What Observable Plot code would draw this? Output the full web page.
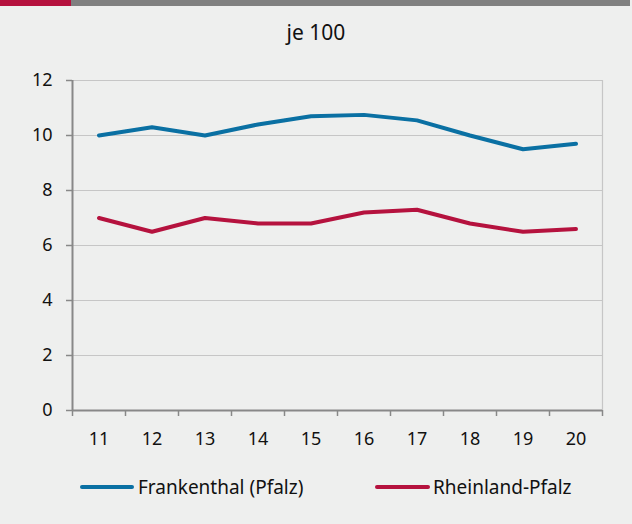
<!DOCTYPE html>
<html><head><meta charset="utf-8">
<script src="https://cdn.jsdelivr.net/npm/d3@7"></script>
<script src="https://cdn.jsdelivr.net/npm/@observablehq/plot@0.6"></script>
<style>
html,body{margin:0;padding:0;background:#eeefee;}
#wrap{position:relative;width:632px;height:524px;overflow:hidden;background:#eeefee;font-family:"Noto Sans",sans-serif;color:#111;}
#barR{position:absolute;left:0;top:0;width:71px;height:6px;background:#b5123e;}
#barG{position:absolute;left:71px;top:0;width:559px;height:6px;background:#808080;}
#title{position:absolute;left:0;width:632px;top:19px;text-align:center;font-size:21px;line-height:26px;}
#chart{position:absolute;left:0;top:60px;}
.leg{position:absolute;top:475px;font-size:19px;line-height:24px;white-space:nowrap;}
.sw{position:absolute;height:4px;border-radius:2px;top:485px;}
</style></head>
<body><div id="wrap">
<div id="barR"></div><div id="barG"></div>
<div id="title">je 100</div>
<div id="chart"></div>
<div class="sw" style="left:80px;width:54px;background:#0a70a3"></div>
<div class="leg" style="left:138px">Frankenthal (Pfalz)</div>
<div class="sw" style="left:375px;width:55px;background:#b5123e"></div>
<div class="leg" style="left:433px">Rheinland-Pfalz</div>
</div>
<script>
const years = [11,12,13,14,15,16,17,18,19,20];
const frankenthal = [10.0,10.3,10.0,10.4,10.7,10.75,10.55,10.0,9.5,9.7];
const rheinlandPfalz = [7.0,6.5,7.0,6.8,6.8,7.2,7.3,6.8,6.5,6.6];
const yTicks = [0,2,4,6,8,10,12];
const seriesNames = ["Frankenthal (Pfalz)","Rheinland-Pfalz"];
const colors = ["#0a70a3","#b5123e"];

const data = [];
years.forEach((y,i)=>{
  data.push({year:y, value:frankenthal[i], series:seriesNames[0]});
  data.push({year:y, value:rheinlandPfalz[i], series:seriesNames[1]});
});
const boundaries = years.map(y=>y-0.5).concat([years[years.length-1]+0.5]);

const chart = Plot.plot({
  width:632, height:395,
  marginLeft:72, marginRight:30, marginTop:20, marginBottom:45,
  style:{background:"transparent", fontFamily:"Noto Sans, sans-serif", fontSize:"18px", color:"#111"},
  x:{type:"linear", domain:[boundaries[0], boundaries[boundaries.length-1]]},
  y:{domain:[0,12]},
  color:{domain:seriesNames, range:colors},
  marks:[
    Plot.ruleY(yTicks.filter(d=>d>0), {stroke:"#c6c6c6", strokeWidth:1.2}),
    Plot.ruleX([boundaries[boundaries.length-1]], {stroke:"#c6c6c6", strokeWidth:1.2}),
    Plot.axisY({ticks:yTicks, tickSize:6, tickPadding:14, stroke:"#888", strokeWidth:1.5, fontSize:18, label:null}),
    Plot.axisX({ticks:boundaries, tickSize:6, tickFormat:()=>"", stroke:"#888", strokeWidth:1.5, label:null}),
    Plot.axisX({ticks:years, tickSize:0, tickPadding:22, fontSize:18, label:null}),
    Plot.ruleX([boundaries[0]], {stroke:"#888", strokeWidth:2}),
    Plot.ruleY([0], {stroke:"#888", strokeWidth:2}),
    Plot.line(data, {x:"year", y:"value", z:"series", stroke:"series", strokeWidth:4, strokeLinejoin:"round", strokeLinecap:"round"})
  ]
});
document.getElementById("chart").appendChild(chart);
</script>
</body></html>
